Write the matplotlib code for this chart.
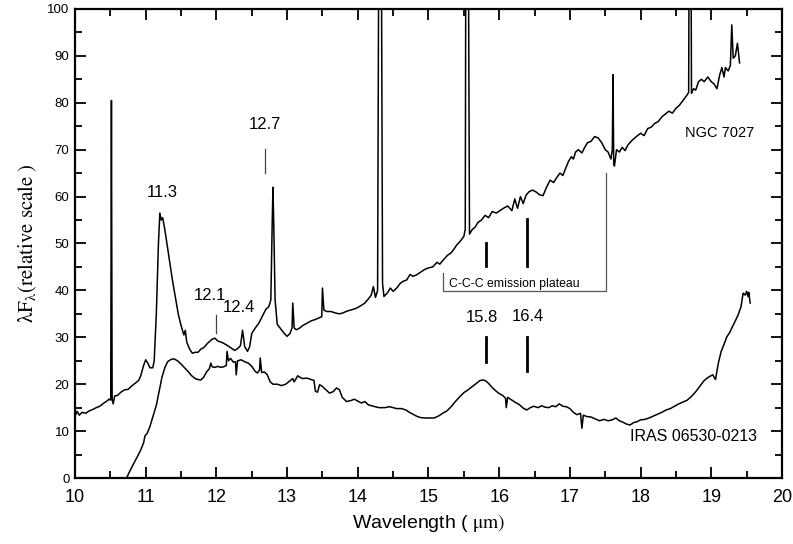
import matplotlib
matplotlib.use("Agg")
import matplotlib.pyplot as plt
from matplotlib.ticker import MultipleLocator

plt.rcParams['font.family'] = ['Liberation Sans', 'DejaVu Sans']
plt.rcParams['mathtext.fontset'] = 'stix'

# NGC 7027 (upper spectrum)
ngc_wave = [10.00, 10.01, 10.03, 10.06, 10.10, 10.15, 10.20, 10.25, 10.30, 10.35,
            10.40, 10.45, 10.48, 10.505, 10.515, 10.525, 10.54, 10.56, 10.60, 10.65,
            10.70, 10.75, 10.80, 10.85, 10.90, 10.93, 10.97, 11.00, 11.03, 11.06,
            11.10, 11.12, 11.15, 11.18, 11.20, 11.22, 11.24, 11.27, 11.30, 11.34,
            11.38, 11.42, 11.46, 11.50, 11.54, 11.56, 11.58, 11.62, 11.66, 11.70,
            11.74, 11.78, 11.82, 11.88, 11.94, 11.98, 12.02, 12.08, 12.14, 12.20,
            12.26, 12.30, 12.34, 12.37, 12.40, 12.44, 12.47, 12.50, 12.55, 12.60,
            12.65, 12.70, 12.74, 12.77, 12.79, 12.80, 12.81, 12.83, 12.86, 12.90,
            12.95, 13.00, 13.04, 13.07, 13.08, 13.10, 13.13, 13.18, 13.22, 13.28,
            13.34, 13.40, 13.46, 13.49, 13.50, 13.52, 13.56, 13.62, 13.68, 13.74,
            13.79, 13.85, 13.92, 13.98, 14.05, 14.10, 14.15, 14.19, 14.22, 14.25,
            14.28, 14.30, 14.33, 14.35, 14.37, 14.42, 14.46, 14.50, 14.55, 14.60,
            14.65, 14.69, 14.74, 14.78, 14.83, 14.90, 14.95, 15.00, 15.06, 15.12,
            15.16, 15.21, 15.27, 15.32, 15.36, 15.40, 15.45, 15.50, 15.52, 15.53,
            15.56, 15.58, 15.62, 15.66, 15.70, 15.75, 15.80, 15.85, 15.90, 15.96,
            16.01, 16.06, 16.12, 16.18, 16.22, 16.26, 16.30, 16.34, 16.38, 16.42,
            16.47, 16.52, 16.57, 16.62, 16.67, 16.72, 16.77, 16.82, 16.86, 16.90,
            16.94, 16.98, 17.02, 17.05, 17.08, 17.12, 17.17, 17.21, 17.25, 17.30,
            17.35, 17.40, 17.45, 17.50, 17.54, 17.58, 17.60, 17.61, 17.62, 17.63,
            17.66, 17.70, 17.74, 17.78, 17.82, 17.88, 17.94, 18.00, 18.05, 18.10,
            18.15, 18.20, 18.25, 18.30, 18.35, 18.40, 18.45, 18.50, 18.55, 18.60,
            18.65, 18.68, 18.69, 18.71, 18.72, 18.75, 18.78, 18.82, 18.86, 18.90,
            18.95, 19.00, 19.04, 19.08, 19.12, 19.15, 19.18, 19.20, 19.24, 19.27,
            19.29, 19.31, 19.34, 19.37, 19.40]
ngc_flux = [15.0, 13.5, 14.2, 13.4, 14.0, 13.8, 14.3, 14.6, 15.0, 15.3,
            15.9, 16.4, 16.8, 16.6, 80.5, 16.8, 15.8, 17.5, 17.6, 18.3,
            18.8, 18.9, 19.6, 20.2, 20.8, 21.8, 24.0, 25.2, 24.5, 23.5,
            23.5, 25.0, 35.0, 50.0, 56.5, 55.0, 55.5, 53.0, 50.0, 46.0,
            42.0, 38.5, 35.0, 32.5, 30.5, 31.5, 29.0, 27.5, 26.6, 26.8,
            26.8, 27.5, 27.8, 28.8, 29.6, 29.8, 29.2, 28.9, 28.4, 27.8,
            27.2, 27.6, 28.2, 31.5, 28.0, 27.0, 28.0, 30.8, 32.0, 33.0,
            34.5, 36.0, 36.5, 38.0, 55.0, 62.0, 55.0, 38.0, 32.8, 32.0,
            31.0, 30.2, 30.8, 32.0, 37.3, 32.0, 31.6, 32.0, 32.5, 33.0,
            33.5, 33.8, 34.2, 34.4, 40.5, 35.8, 35.5, 35.5, 35.2, 35.0,
            35.2, 35.6, 35.9, 36.2, 36.8, 37.3, 38.2, 39.0, 40.8, 38.5,
            40.0, 130.0, 130.0, 41.5, 38.7, 39.5, 40.5, 39.8, 40.5, 41.5,
            42.0, 42.2, 43.4, 43.0, 43.3, 44.0, 44.5, 44.8, 45.0, 46.0,
            45.6, 46.5, 47.5, 48.0, 48.8, 49.7, 50.5, 51.5, 53.0, 130.0,
            130.0, 52.0, 53.0, 53.5, 54.5, 55.0, 56.0, 55.5, 56.8, 56.5,
            57.0, 57.5, 58.0, 57.0, 59.5, 57.5, 60.0, 58.5, 60.3, 61.0,
            61.4, 61.0, 60.4, 60.2, 62.0, 63.5, 63.0, 64.2, 65.0, 64.5,
            66.0, 67.5, 68.5, 68.0, 69.5, 70.0, 69.3, 70.5, 71.5, 71.8,
            72.8, 72.5, 71.5, 70.0, 69.5, 68.0, 70.0, 86.0, 67.0, 66.5,
            70.0, 69.5, 70.5, 69.8, 71.0, 72.0, 72.8, 73.5, 73.0, 74.5,
            74.8, 75.6, 76.0, 77.0, 77.6, 78.2, 77.8, 78.8, 79.5, 80.5,
            81.5, 82.2, 130.0, 130.0, 82.0, 83.0, 82.7, 84.5, 85.0, 84.5,
            85.5, 84.5, 84.0, 83.0, 86.0, 87.5, 85.5, 87.5, 86.8, 88.0,
            96.6, 89.5, 90.0, 92.7, 88.5]

# IRAS 06530-0213 (lower spectrum)
iras_wave = [10.70, 10.76, 10.82, 10.88, 10.93, 10.97, 10.99, 11.02, 11.06, 11.10,
             11.15, 11.19, 11.23, 11.27, 11.31, 11.36, 11.40, 11.45, 11.50, 11.55,
             11.60, 11.65, 11.70, 11.74, 11.78, 11.82, 11.86, 11.90, 11.92, 11.94,
             11.98, 12.02, 12.06, 12.10, 12.14, 12.15, 12.17, 12.20, 12.24, 12.27,
             12.28, 12.30, 12.35, 12.40, 12.45, 12.50, 12.55, 12.58, 12.61, 12.62,
             12.64, 12.68, 12.72, 12.76, 12.80, 12.86, 12.92, 12.98, 13.03, 13.08,
             13.10, 13.15, 13.18, 13.22, 13.28, 13.34, 13.38, 13.40, 13.43, 13.46,
             13.50, 13.55, 13.60, 13.65, 13.70, 13.74, 13.78, 13.84, 13.90, 13.95,
             14.00, 14.05, 14.10, 14.15, 14.22, 14.30, 14.38, 14.45, 14.50, 14.55,
             14.62, 14.68, 14.73, 14.78, 14.83, 14.88, 14.95, 15.02, 15.08, 15.14,
             15.20, 15.26, 15.32, 15.38, 15.44, 15.50, 15.56, 15.62, 15.68, 15.73,
             15.78, 15.82, 15.86, 15.90, 15.95, 16.00, 16.05, 16.09, 16.10, 16.12,
             16.17, 16.22, 16.28, 16.34, 16.39, 16.44, 16.49, 16.55, 16.60, 16.65,
             16.70, 16.75, 16.80, 16.85, 16.90, 16.95, 17.00, 17.05, 17.10, 17.15,
             17.17, 17.19, 17.24, 17.30, 17.36, 17.42, 17.48, 17.54, 17.60, 17.65,
             17.70, 17.75, 17.80, 17.85, 17.90, 17.95, 18.00, 18.06, 18.12, 18.18,
             18.24, 18.30, 18.36, 18.42, 18.48, 18.54, 18.60, 18.66, 18.72, 18.78,
             18.84, 18.90, 18.96, 19.02, 19.06, 19.10, 19.14, 19.18, 19.22, 19.26,
             19.30, 19.34, 19.38, 19.42, 19.45, 19.48, 19.50, 19.52, 19.53, 19.55]
iras_flux = [-1.0, 1.0, 2.8, 4.5, 6.0, 7.5, 9.0, 9.5, 11.0, 13.0,
             15.5, 18.5, 21.5, 23.5, 24.8, 25.3, 25.4, 25.0, 24.3, 23.5,
             22.7, 21.8, 21.2, 21.0, 20.9, 21.5, 22.6, 23.3, 24.5, 23.7,
             23.6, 23.8, 23.6, 23.7, 24.0, 27.0, 25.0, 25.5, 24.7, 24.8,
             22.0, 25.0, 25.2, 24.8, 24.5, 23.8, 22.7, 22.4, 23.0, 25.6,
             22.5, 22.6, 22.0, 20.5, 20.0, 20.0, 19.7, 20.0, 20.6, 21.2,
             20.5, 21.8, 21.5, 21.2, 21.3, 21.0, 20.8, 18.5, 18.3, 19.9,
             19.5, 18.8, 18.1, 18.4, 19.2, 18.8, 17.2, 16.3, 16.5, 16.8,
             16.4, 16.0, 16.3, 15.6, 15.3, 15.0, 15.0, 15.2, 15.0, 14.8,
             14.8, 14.5, 14.0, 13.6, 13.2, 12.9, 12.8, 12.8, 12.8, 13.2,
             13.8, 14.3, 15.2, 16.3, 17.3, 18.2, 18.8, 19.5, 20.2, 20.8,
             20.9, 20.6, 20.0, 19.3, 18.6, 18.0, 17.6, 17.0, 15.0, 17.2,
             16.7, 16.2, 15.7, 14.9, 14.5, 15.0, 15.3, 15.0, 15.4, 15.1,
             15.0, 15.4, 15.2, 15.8, 15.3, 15.2, 14.8, 14.0, 13.5, 13.8,
             10.6, 13.4, 13.1, 13.0, 12.6, 12.2, 12.5, 12.2, 12.4, 12.8,
             12.2, 11.9, 11.5, 11.3, 11.8, 12.0, 12.4, 12.5, 12.8, 13.2,
             13.6, 14.0, 14.5, 14.8, 15.3, 15.8, 16.2, 16.6, 17.4, 18.4,
             19.6, 20.8, 21.5, 22.0, 21.0, 24.5, 27.0, 28.5, 30.1, 31.0,
             32.3, 33.5, 34.8, 36.5, 39.4, 39.0, 39.8, 38.7, 39.6, 37.3]

# feature labels: (text, x, y)
feature_labels = [("11.3", 11.24, 60.8), ("12.7", 12.69, 75.3),
                  ("12.1", 11.91, 39.0), ("12.4", 12.32, 36.3),
                  ("15.8", 15.75, 34.3), ("16.4", 16.41, 34.4)]

fig = plt.figure(figsize=(7.93, 5.44), dpi=100)
ax = fig.add_axes([0.0946, 0.1213, 0.8915, 0.8622])

ax.plot(ngc_wave, ngc_flux, color='black', lw=1.1)
ax.plot(iras_wave, iras_flux, color='black', lw=1.1)

ax.set_xlim(10, 20)
ax.set_ylim(0, 100)

# thin marker lines
ax.plot([12.69, 12.69], [65.0, 70.1], color='#444444', lw=0.9)
ax.plot([12.0, 12.0], [31.0, 34.7], color='#444444', lw=0.9)
# thick marker lines
for xx, y0, y1 in [(15.81, 45.1, 50.2), (16.4, 45.1, 55.2),
                   (15.81, 24.8, 30.0), (16.4, 22.8, 30.0)]:
    ax.plot([xx, xx], [y0, y1], color='black', lw=2.0)

# C-C-C plateau bracket
ax.plot([15.21, 15.21, 17.51, 17.51], [43.7, 39.9, 39.9, 65.1],
        color='#555555', lw=0.9)
ax.text(15.29, 41.4, "C-C-C emission plateau", fontsize=8.8, va='center', ha='left')

for txt, xx, yy in feature_labels:
    ax.text(xx, yy, txt, fontsize=12, ha='center', va='center')

ax.text(18.63, 73.6, "NGC 7027", fontsize=10.5, va='center', ha='left')
ax.text(17.85, 8.8, "IRAS 06530-0213", fontsize=11.5, va='center', ha='left')

ax.xaxis.set_major_locator(MultipleLocator(1))
ax.xaxis.set_minor_locator(MultipleLocator(0.5))
ax.yaxis.set_major_locator(MultipleLocator(10))
ax.yaxis.set_minor_locator(MultipleLocator(5))
ax.tick_params(which='both', direction='in', top=True, right=True, width=1.3)
ax.tick_params(which='major', length=8)
ax.tick_params(which='minor', length=5)
ax.tick_params(axis='x', labelsize=13, pad=8)
ax.tick_params(axis='y', labelsize=9.5, pad=4)
for sp in ax.spines.values():
    sp.set_linewidth(1.6)

ax.set_xlabel('Wavelength ( $\\mathrm{\\mu m)}$', fontsize=14, labelpad=4)
ax.set_ylabel('$\\mathrm{\\lambda F_{\\lambda}(relative\\ scale\\ )}$', fontsize=15, labelpad=6)

fig.savefig('out.png', dpi=100)
